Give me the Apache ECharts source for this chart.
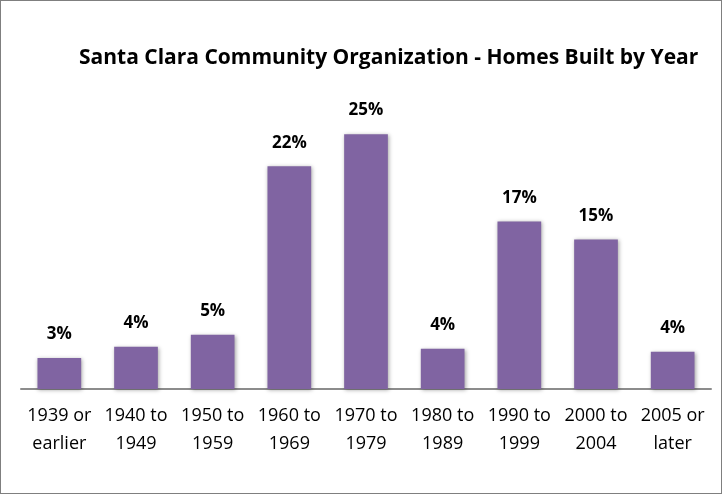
<!DOCTYPE html>
<html>
<head>
<meta charset="utf-8">
<script src="https://cdn.jsdelivr.net/npm/echarts@6/dist/echarts.min.js"></script>
<style>
body{margin:0;background:#fff;}
#chart{position:absolute;left:0;top:0;width:720px;height:492px;border:1px solid #7f7f7f;}
</style>
</head>
<body>
<div id="chart"></div>
<script>
var titleText = 'Santa Clara Community Organization - Homes Built by Year';
var categories = ['1939 or\nearlier','1940 to\n1949','1950 to\n1959','1960 to\n1969','1970 to\n1979','1980 to\n1989','1990 to\n1999','2000 to\n2004','2005 or\nlater'];
var shares = [3.1, 4.2, 5.4, 22.2, 25.4, 4.0, 16.7, 14.9, 3.7];

var chart = echarts.init(document.getElementById('chart'));
var option = {
	animation:false,
	title:{
		text:titleText,
		left:73,
		top:42,
		textStyle:{
			color:'#000',
			fontSize:21,
			fontWeight:'bold',
			fontFamily:'Open Sans'
		}
	},
	grid:{
		left:20,
		right:10,
		top:92,
		bottom:104
	},
	xAxis:{
		type:'category',
		data:categories,
		axisLine:{lineStyle:{color:'#8c8c8c',width:2}},
		axisTick:{show:false},
		axisLabel:{
			interval:0,
			color:'#000',
			fontSize:18,
			lineHeight:28,
			margin:13,
			fontFamily:'Open Sans'
		}
	},
	yAxis:{
		type:'value',
		min:0,
		max:29.5,
		show:false,
		splitLine:{show:false}
	},
	series:[{
		type:'bar',
		data:shares,
		barCategoryGap:'43%',
		itemStyle:{
			color:'#8064A2',
			shadowColor:'rgba(0,0,0,0.35)',
			shadowBlur:4,
			shadowOffsetX:1,
			shadowOffsetY:1
		},
		label:{
			show:true,
			position:'top',
			distance:15,
			color:'#000',
			fontSize:17,
			fontWeight:'bold',
			fontFamily:'Open Sans',
			formatter:function(p){return Math.round(p.value)+'%';}
		}
	}]
};
chart.setOption(option);
</script>
</body>
</html>
